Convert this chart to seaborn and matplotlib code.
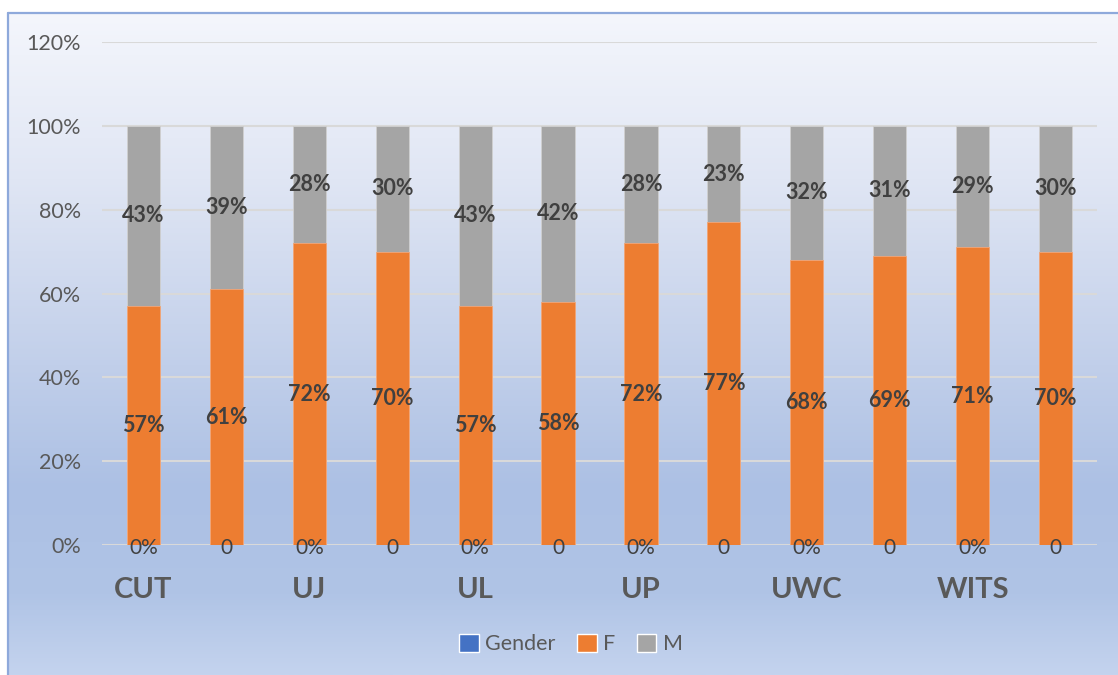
import numpy as np
import pandas as pd
import matplotlib
matplotlib.use("Agg")
import matplotlib.pyplot as plt
from matplotlib.patches import Patch
from matplotlib.colors import LinearSegmentedColormap
import seaborn as sns

# ---- data -------------------------------------------------------------
universities = ["CUT", "UJ", "UL", "UP", "UWC", "WITS"]
female = [57, 61, 72, 70, 57, 58, 72, 77, 68, 69, 71, 70]
male = [43, 39, 28, 30, 43, 42, 28, 23, 32, 31, 29, 30]
gender = [0] * 12
gender_labels = ["0%", "0", "0%", "0", "0%", "0", "0%", "0", "0%", "0", "0%", "0"]
y_ticks = [0, 20, 40, 60, 80, 100, 120]

# ---- style ------------------------------------------------------------
sns.set_theme(style="white")
plt.rcParams["font.family"] = ["Lato", "DejaVu Sans"]

C_GENDER = "#4472C4"
C_F = "#ED7D31"
C_M = "#A5A5A5"
TXT = "#595959"
LBL = "#404040"

W, H = 1118, 675
fig = plt.figure(figsize=(W / 100, H / 100), dpi=100)
fig.patch.set_facecolor("white")

# gradient chart-area background with a light blue frame on the top/left
bg = fig.add_axes([8 / W, 0, 1 - 8 / W, 1 - 13 / H], zorder=-5)
grad = LinearSegmentedColormap.from_list(
    "bg",
    [(0.0, (244 / 255, 246 / 255, 252 / 255)),
     (0.25, (224 / 255, 230 / 255, 244 / 255)),
     (0.47, (200 / 255, 212 / 255, 236 / 255)),
     (0.72, (172 / 255, 192 / 255, 228 / 255)),
     (0.88, (176 / 255, 196 / 255, 230 / 255)),
     (1.0, (196 / 255, 211 / 255, 238 / 255))])
bg.imshow(np.linspace(0, 1, 256).reshape(-1, 1), aspect="auto", cmap=grad,
          extent=[0, 1, 0, 1], origin="upper")
bg.set_xlim(0, 1)
bg.set_ylim(0, 1)
bg.axis("off")
bg.plot([0, 0], [0, 1], color="#8EA9DB", lw=1.6, clip_on=False)
bg.plot([0, 1], [1, 1], color="#8EA9DB", lw=1.6, clip_on=False)

# ---- plot area --------------------------------------------------------
ax = fig.add_axes([102 / W, (H - 545) / H, 995 / W, 503 / H])
ax.set_facecolor("none")

df = pd.DataFrame({
    "slot": np.arange(len(female)),
    "F": np.array(female) / 100,
    "M": np.array(male) / 100,
    "G": np.array(gender) / 100,
})
df["total"] = df["F"] + df["M"]

# stacked 100% bars: full height in grey, female portion over it in orange
sns.barplot(data=df, x="slot", y="total", color=C_M, saturation=1, width=0.4,
            edgecolor="#D0D0D0", linewidth=0.6, ax=ax, zorder=2)
sns.barplot(data=df, x="slot", y="F", color=C_F, saturation=1, width=0.4,
            edgecolor="#F2A679", linewidth=0.6, ax=ax, zorder=3)
sns.barplot(data=df, x="slot", y="G", color=C_GENDER, saturation=1, width=0.4,
            linewidth=0, ax=ax, zorder=4)

ax.set_xlim(-0.5, len(female) - 0.5)
ax.set_ylim(0, 1.2)
ax.set_yticks([v / 100 for v in y_ticks])
ax.set_yticklabels([f"{v}%" for v in y_ticks], color=TXT, fontsize=15.5)
ax.yaxis.grid(True, color="#D9D9D9", lw=1.5, zorder=0)
ax.set_axisbelow(True)
for s in ax.spines.values():
    s.set_visible(False)

ax.set_xticks(np.arange(0, len(female), 2))
ax.set_xticklabels(universities, fontsize=21, fontweight="bold", color=TXT)
ax.tick_params(axis="x", length=0, pad=23)
ax.tick_params(axis="y", length=0, pad=15)
ax.set_xlabel("")
ax.set_ylabel("")

# data labels
for i, (f, m) in enumerate(zip(female, male)):
    ax.text(i, f / 200, f"{f}%", ha="center", va="center", fontsize=15.5,
            fontweight="bold", color=LBL, zorder=6)
    ax.text(i, f / 100 + m / 200, f"{m}%", ha="center", va="center",
            fontsize=15.5, fontweight="bold", color=LBL, zorder=6)
    ax.annotate(gender_labels[i], (i, gender[i] / 100), xytext=(0, -2),
                textcoords="offset points", ha="center", va="center",
                fontsize=15, color=LBL, zorder=6)

# legend
handles = [Patch(facecolor=C_GENDER, label="Gender"),
           Patch(facecolor=C_F, label="F"),
           Patch(facecolor=C_M, label="M")]
fig.legend(handles=handles, loc="center", ncol=3, frameon=False,
           bbox_to_anchor=(571 / W, 1 - 644 / H), fontsize=15.5,
           handlelength=0.9, handleheight=0.9, handletextpad=0.3,
           columnspacing=1.0, labelcolor=TXT)

fig.savefig("out.png", dpi=100)
